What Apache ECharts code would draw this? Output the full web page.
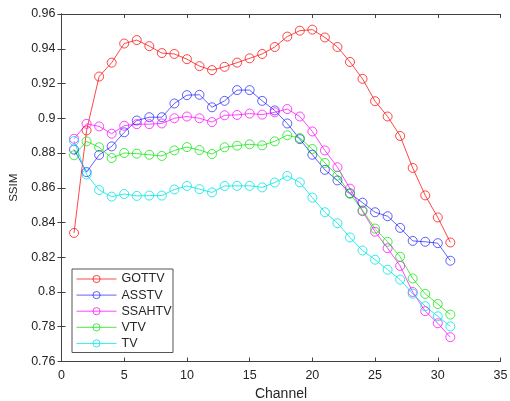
<!DOCTYPE html>
<html>
<head>
<meta charset="utf-8">
<script src="https://cdn.jsdelivr.net/npm/echarts@6/dist/echarts.min.js"></script>
<style>
html,body{margin:0;padding:0;background:#fff;}
#main{width:510px;height:401px;}
</style>
</head>
<body>
<div id="main"></div>
<script>
var channels = [1,2,3,4,5,6,7,8,9,10,11,12,13,14,15,16,17,18,19,20,21,22,23,24,25,26,27,28,29,30,31];
var seriesNames = ['GOTTV','ASSTV','SSAHTV','VTV','TV'];
var gottv = [0.834,0.893,0.924,0.932,0.943,0.945,0.9415,0.9375,0.937,0.934,0.930,0.9277,0.9296,0.932,0.9345,0.937,0.941,0.947,0.9504,0.951,0.9465,0.941,0.9324,0.9227,0.9098,0.901,0.8898,0.8714,0.8556,0.8429,0.8285];
var asstv = [0.882,0.869,0.8789,0.8838,0.8919,0.8987,0.9006,0.9006,0.9085,0.9133,0.9135,0.9063,0.910,0.9162,0.9162,0.910,0.9045,0.897,0.888,0.879,0.8703,0.8642,0.8568,0.8514,0.8459,0.8436,0.8369,0.8294,0.8289,0.8281,0.818];
var ssahtv = [0.8882,0.8968,0.8953,0.8911,0.8957,0.8966,0.8966,0.897,0.900,0.901,0.900,0.8978,0.9017,0.9019,0.9027,0.9021,0.9034,0.9053,0.901,0.8924,0.8815,0.8718,0.8595,0.8465,0.8347,0.8252,0.815,0.800,0.789,0.782,0.774];
var vtv = [0.8787,0.8867,0.8833,0.8771,0.880,0.8796,0.879,0.8783,0.8815,0.8834,0.8817,0.8794,0.8833,0.8842,0.885,0.8844,0.8867,0.8902,0.8886,0.8823,0.8743,0.867,0.8566,0.847,0.8365,0.8289,0.8203,0.8078,0.7989,0.7931,0.787];
var tv = [0.8869,0.8676,0.8587,0.8549,0.8564,0.8553,0.8555,0.8555,0.859,0.861,0.8592,0.8573,0.861,0.8611,0.8611,0.8602,0.863,0.8668,0.8631,0.8543,0.8459,0.8396,0.8314,0.8239,0.8186,0.8128,0.8071,0.799,0.7918,0.786,0.7802];
var xTicks = {min:0, max:35, interval:5};
var yTicks = {min:0.76, max:0.96, interval:0.02};

var colors = ['rgba(255,0,0,0.72)','rgba(0,0,255,0.62)','rgba(255,0,255,0.72)','rgba(0,230,0,0.72)','rgba(0,230,230,0.8)'];
var allData = [gottv, asstv, ssahtv, vtv, tv];
var axisColor = '#404040';
var textColor = '#262626';
var font = 'Liberation Sans, Arial, sans-serif';

var series = allData.map(function(vals, k){
  return {
    name: seriesNames[k],
    type: 'line',
    xAxisIndex: 0,
    yAxisIndex: 0,
    data: channels.map(function(c, i){ return [c, vals[i]]; }),
    symbol: 'circle',
    symbolSize: 9,
    showAllSymbol: true,
    lineStyle: {color: colors[k], width: 1},
    itemStyle: {color: 'rgba(255,255,255,0)', borderColor: colors[k], borderWidth: 1},
    emphasis: {disabled: true},
    animation: false
  };
});

var chart = echarts.init(document.getElementById('main'), null, {renderer:'canvas'});
chart.setOption({
  backgroundColor: '#fff',
  animation: false,
  grid: {left: 61.5, right: 9.5, top: 14, bottom: 39.5, containLabel: false, outerBoundsMode: 'none'},
  legend: {
    orient: 'vertical',
    left: 72, top: 269,
    data: seriesNames,
    itemWidth: 40, itemHeight: 9, itemGap: 3.1,
    padding: [3.5, 1.5, 2.6, 4],
    borderColor: '#555', borderWidth: 1,
    backgroundColor: '#fff',
    lineStyle: {width: 1},
    itemStyle: {borderWidth: 1},
    textStyle: {fontSize: 12.5, color: textColor, fontFamily: font},
    selectedMode: false
  },
  xAxis: [{
    type: 'value', position: 'bottom',
    min: xTicks.min, max: xTicks.max, interval: xTicks.interval,
    name: 'Channel', nameLocation: 'middle', nameGap: 25,
    nameTextStyle: {fontSize: 14, color: textColor, fontFamily: font},
    axisLine: {show: true, lineStyle: {color: axisColor, width: 1}},
    axisTick: {show: true, inside: true, length: 4, lineStyle: {color: axisColor}},
    axisLabel: {fontSize: 12.5, color: textColor, fontFamily: font, margin: 8},
    splitLine: {show: false}
  },{
    type: 'value', position: 'top',
    min: xTicks.min, max: xTicks.max, interval: xTicks.interval,
    axisLine: {show: true, lineStyle: {color: axisColor, width: 1}},
    axisTick: {show: true, inside: true, length: 4, lineStyle: {color: axisColor}},
    axisLabel: {show: false},
    splitLine: {show: false}
  }],
  yAxis: [{
    type: 'value', position: 'left',
    min: yTicks.min, max: yTicks.max, interval: yTicks.interval,
    name: 'SSIM', nameLocation: 'middle', nameGap: 38.5,
    nameTextStyle: {fontSize: 11.5, color: textColor, fontFamily: font},
    axisLine: {show: true, lineStyle: {color: axisColor, width: 1}},
    axisTick: {show: true, inside: true, length: 4, lineStyle: {color: axisColor}},
    axisLabel: {fontSize: 12.5, color: textColor, fontFamily: font, margin: 6},
    splitLine: {show: false}
  },{
    type: 'value', position: 'right',
    min: yTicks.min, max: yTicks.max, interval: yTicks.interval,
    axisLine: {show: true, lineStyle: {color: axisColor, width: 1}},
    axisTick: {show: true, inside: true, length: 4, lineStyle: {color: axisColor}},
    axisLabel: {show: false},
    splitLine: {show: false}
  }],
  series: series
});
</script>
</body>
</html>
